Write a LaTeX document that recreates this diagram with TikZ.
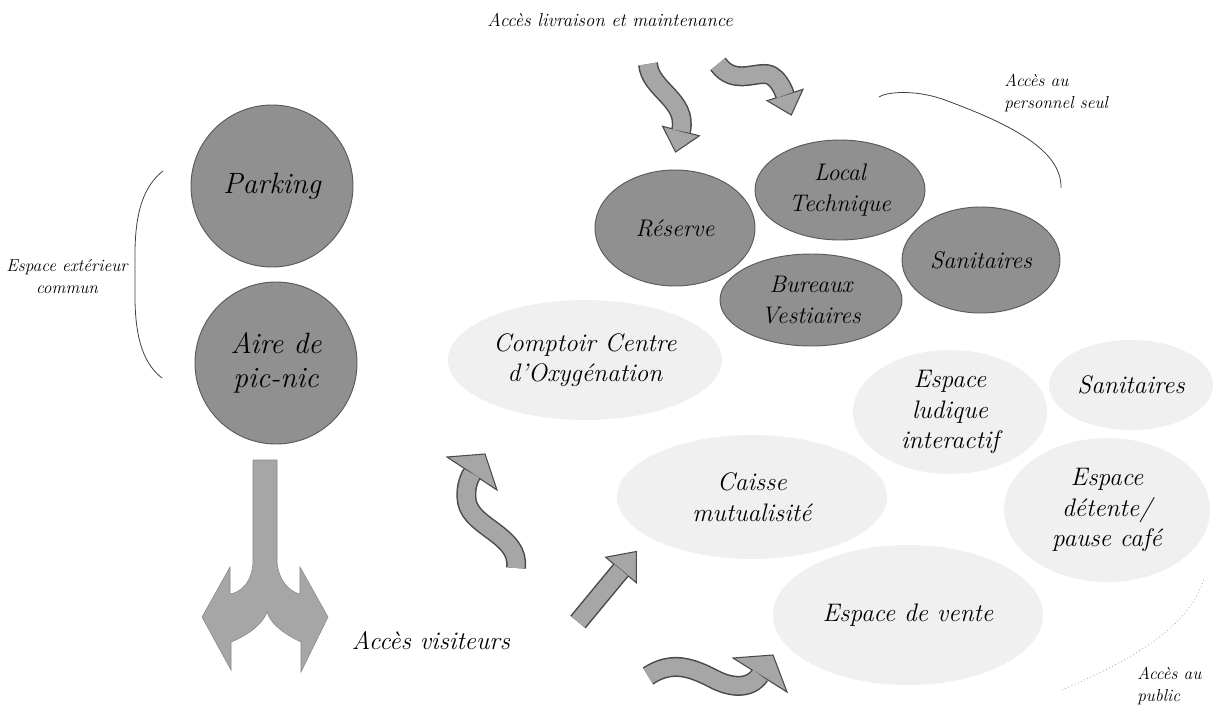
\documentclass[tikz,border=0pt]{standalone}
\usetikzlibrary{shapes.geometric}
\newlength\upx
\setlength\upx{0.75pt}
\definecolor{darkfill}{HTML}{909090}
\definecolor{darkedge}{HTML}{5A5A5A}
\definecolor{lightfill}{HTML}{F0F0F0}
\definecolor{arrfill}{HTML}{A6A6A6}
\definecolor{arredge}{HTML}{4A4A4A}
\tikzset{
  darkell/.style={ellipse, fill=darkfill, draw=darkedge, line width=0.7pt, inner sep=0pt, align=center,
     font=\fontsize{18}{23}\selectfont\itshape},
  lightell/.style={ellipse, fill=lightfill, draw=none, inner sep=0pt, align=center,
     font=\fontsize{19}{23}\selectfont\itshape},
  outcircle/.style={circle, fill=darkfill, draw=darkedge, line width=0.7pt, inner sep=0pt, align=center,
     font=\fontsize{22}{26}\selectfont\itshape, minimum size=162\upx},
  smalllbl/.style={font=\fontsize{13}{16.5}\selectfont\itshape, inner sep=0pt},
  biglbl/.style={font=\fontsize{19}{23}\selectfont\itshape, inner sep=0pt},
  bodyout/.style={draw=arredge, line width=20\upx, line cap=butt},
  bodyin/.style={draw=arrfill, line width=17\upx, line cap=butt},
  headtri/.style={fill=arrfill, draw=arredge, line width=0.8pt, line join=miter},
  bracket/.style={draw=black!75, line width=0.6pt}
}
\begin{document}
\begin{tikzpicture}[x=0.75pt,y=-0.75pt]
\useasboundingbox (0,0) rectangle (1215,708);

% light (public) ellipses
\node[lightell, minimum width=274\upx, minimum height=120\upx] (comptoir) at (585,360) {Comptoir Centre\\d'Oxygénation};
\node[lightell, minimum width=194\upx, minimum height=124\upx] (ludique) at (950,412) {Espace\\ludique\\interactif};
\node[lightell, minimum width=164\upx, minimum height=90\upx] (sanipub) at (1131,385) {Sanitaires};
\node[lightell, minimum width=206\upx, minimum height=144\upx] (detente) at (1107,510) {Espace\\détente/\\pause café};
\node[lightell, minimum width=270\upx, minimum height=124\upx] (caisse) at (752,497) {Caisse\\mutualisité};
\node[lightell, minimum width=270\upx, minimum height=140\upx] (vente) at (908,615) {Espace de vente};

% dark (staff) ellipses
\node[darkell, minimum width=160\upx, minimum height=116\upx] (reserve) at (675,228) {Réserve};
\node[darkell, minimum width=170\upx, minimum height=100\upx] (local) at (840,190) {Local\\Technique};
\node[darkell, minimum width=158\upx, minimum height=106\upx] (sanistaff) at (981,260) {Sanitaires};
\node[darkell, minimum width=182\upx, minimum height=92\upx] (bureaux) at (811,300) {Bureaux\\Vestiaires};

% outdoor circles
\node[outcircle] (parking) at (272,186) {Parking};
\node[outcircle] (picnic) at (276,363) {Aire de\\pic-nic};

% labels
\node[font=\fontsize{14}{17}\selectfont\itshape, inner sep=0pt] (livr) at (610,20) {Accès livraison et maintenance};
\node[biglbl] (visit) at (431,641) {Accès visiteurs};
\node[smalllbl, align=center] (ext) at (67,277) {Espace extérieur\\commun};
\node[smalllbl, align=left, anchor=west] (perso) at (1004,93) {Accès au\\personnel seul};
\node[smalllbl, align=left, anchor=west] (public) at (1137,686) {Accès au\\public};

% brackets
\draw[bracket] (163,171) .. controls (132,195) and (135,245) .. (135,275) .. controls (135,305) and (132,355) .. (162,378);
\draw[bracket] (879,97) .. controls (886,92) and (915,89) .. (945,100) .. controls (1010,124) and (1062,150) .. (1061,188);
\draw[draw=black!35, dotted, line width=0.6pt] (1062,690) .. controls (1120,665) and (1190,630) .. (1204,578);

% visitor double arrow
\path[fill=arrfill, draw=arrfill!80!black, line width=0.4pt]
  (253,460) -- (277,460) -- (277,562) .. controls (279,585) and (294,593) .. (300,594)
  -- (300,567) -- (328,617) -- (301,672) -- (301,642)
  .. controls (290,637) and (271,626) .. (267,612)
  .. controls (262,626) and (244,637) .. (231,642)
  -- (231,670) -- (202,617) -- (230,567) -- (230,594)
  .. controls (238,593) and (252,585) .. (253,562) -- cycle;

% arrow A (delivery, left)
\draw[bodyout] (648,64) .. controls (650,90) and (688,100) .. (681,131);
\path[headtri] (662.6,126.3) -- (699.4,135.8) -- (675.5,152) -- cycle;
\draw[bodyin] (648,64) .. controls (650,90) and (688,100) .. (681,131);

% arrow B (delivery, right)
\draw[bodyout] (718,64) .. controls (735,88) and (760,68) .. (772,76) .. controls (777,79) and (782,86) .. (785,95);
\path[headtri] (767,100.7) -- (803,89.3) -- (791.3,115) -- cycle;
\draw[bodyin] (718,64) .. controls (735,88) and (760,68) .. (772,76) .. controls (777,79) and (782,86) .. (785,95);

% arrow C (S arrow to comptoir)
\draw[bodyout] (516,568) .. controls (520,535) and (472,528) .. (467,502) .. controls (465,490) and (468,480) .. (472,473.5);
\path[headtri] (447,457) -- (485,454) -- (497,490) -- cycle;
\draw[bodyin] (516,568) .. controls (520,535) and (472,528) .. (467,502) .. controls (465,490) and (468,480) .. (472,473.5);

% arrow D (straight to caisse)
\draw[bodyout] (578,622) -- (621,570);
\path[headtri] (605.6,557.2) -- (636.4,582.8) -- (636.4,551.5) -- cycle;
\draw[bodyin] (578,622) -- (621,570);

% arrow E (bottom, to vente)
\draw[bodyout] (648,676) .. controls (672,660) and (692,668) .. (712,678) .. controls (730,688) and (750,690) .. (760,675);
\path[headtri] (733,658) -- (773,655) -- (787,692) -- cycle;
\draw[bodyin] (648,676) .. controls (672,660) and (692,668) .. (712,678) .. controls (730,688) and (750,690) .. (760,675);
\end{tikzpicture}
\end{document}
